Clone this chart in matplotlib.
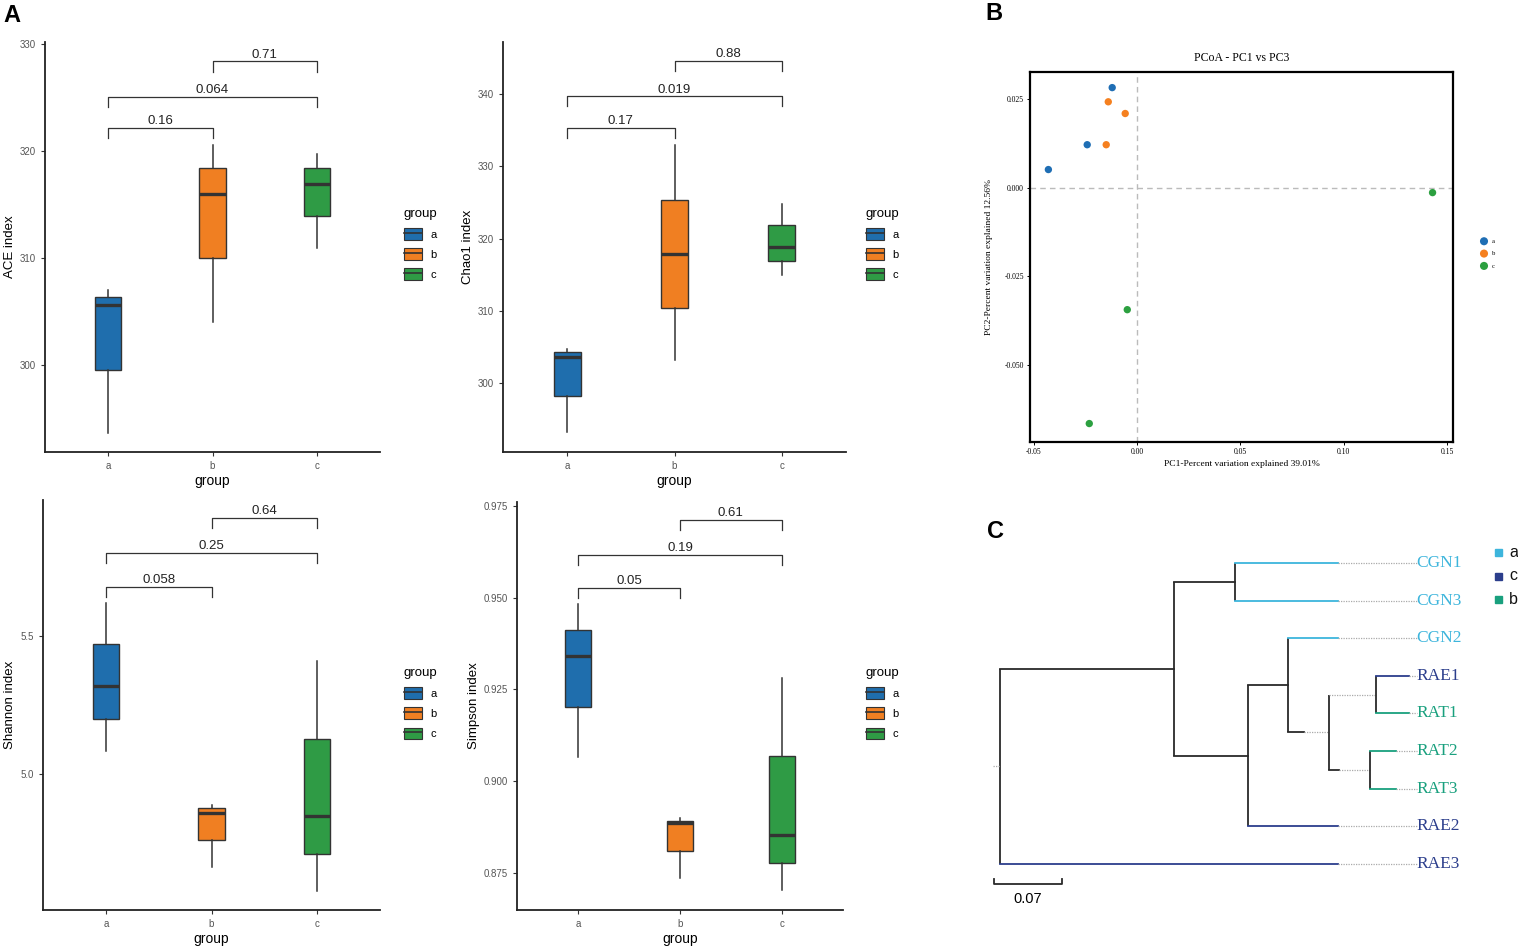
import numpy as np
import matplotlib.pyplot as plt
from matplotlib.patches import Patch
from matplotlib.lines import Line2D

# ---------------- data ----------------
groups = ["a", "b", "c"]
box_colors = ["#1F6EAD", "#F07F22", "#2F9B45"]

# five-number summaries per group: whislo, q1, med, q3, whishi
ace = [[293.7, 299.6, 305.6, 306.4, 307.0],
       [304.0, 310.0, 316.0, 318.4, 320.6],
       [311.0, 313.9, 316.9, 318.4, 319.7]]
chao1 = [[293.2, 298.3, 303.7, 304.3, 304.8],
         [303.2, 310.4, 317.9, 325.4, 333.0],
         [315.0, 316.9, 318.9, 321.9, 324.8]]
shannon = [[5.083, 5.199, 5.319, 5.471, 5.620],
           [4.663, 4.761, 4.859, 4.877, 4.888],
           [4.576, 4.710, 4.848, 5.127, 5.409]]
simpson = [[0.9067, 0.9201, 0.9340, 0.9413, 0.9484],
           [0.8736, 0.8810, 0.8886, 0.8891, 0.8899],
           [0.8703, 0.8777, 0.8853, 0.9068, 0.9280]]

# p-values and bracket heights: (a-b), (a-c), (b-c)
ace_p = ["0.16", "0.064", "0.71"]
ace_h = [322.15, 325.1, 328.4]
chao1_p = ["0.17", "0.019", "0.88"]
chao1_h = [335.3, 339.7, 344.6]
shannon_p = ["0.058", "0.25", "0.64"]
shannon_h = [5.678, 5.801, 5.928]
simpson_p = ["0.05", "0.19", "0.61"]
simpson_h = [0.9527, 0.9617, 0.9713]

# PCoA
pc1 = {"a": [-0.0121, -0.0242, -0.0430],
       "b": [-0.0140, -0.0058, -0.0150],
       "c": [0.1430, -0.0048, -0.0232]}
pc2 = {"a": [0.0282, 0.0121, 0.0051],
       "b": [0.0242, 0.0209, 0.0121],
       "c": [-0.0014, -0.0344, -0.0665]}
pcoa_colors = {"a": "#1F6EB4", "b": "#F5801F", "c": "#2CA040"}

# tree
leaves = ["CGN1", "CGN3", "CGN2", "RAE1", "RAT1", "RAT2", "RAT3", "RAE2", "RAE3"]
leaf_group = ["a", "a", "a", "c", "b", "b", "b", "c", "c"]
tree_colors = {"a": "#3DB5DC", "c": "#2C3E8C", "b": "#19A07E"}
children = {"root": ["N1", "RAE3"], "N1": ["N2", "N3"], "N2": ["CGN1", "CGN3"],
            "N3": ["N4", "RAE2"], "N4": ["CGN2", "N5"], "N5": ["N6", "N7"],
            "N6": ["RAE1", "RAT1"], "N7": ["RAT2", "RAT3"]}
depth = {"root": 0.0, "N1": 0.179, "N2": 0.242, "N3": 0.255, "N4": 0.296,
         "N5": 0.339, "N6": 0.387, "N7": 0.381,
         "CGN1": 0.348, "CGN3": 0.348, "CGN2": 0.348, "RAE2": 0.348, "RAE3": 0.348,
         "RAE1": 0.421, "RAT1": 0.421, "RAT2": 0.408, "RAT3": 0.408}
# internal branches that are only partly solid (solid up to this depth, dotted after)
solid_end = {"N5": 0.313, "N6": 0.339, "N7": 0.349}
label_depth = 0.429
scale_len = 0.07

# ---------------- figure ----------------
W, H = 1518, 947
fig = plt.figure(figsize=(W / 100, H / 100), dpi=100)
plt.rcParams['font.family'] = ['Liberation Sans', 'DejaVu Sans']


def px_axes(x0, y0, x1, y1):
    return fig.add_axes([x0 / W, 1 - y1 / H, (x1 - x0) / W, (y1 - y0) / H])


def box_panel(rect, data, ylim, yticks, ylabels, ylab, pvals, heights, leg_xy):
    ax = px_axes(*rect)
    stats = []
    for g, d in zip(groups, data):
        stats.append(dict(whislo=d[0], q1=d[1], med=d[2], q3=d[3], whishi=d[4], fliers=[]))
    bp = ax.bxp(stats, positions=[1, 2, 3], widths=0.25, showcaps=False, patch_artist=True,
                boxprops=dict(edgecolor="#333333", linewidth=1.0),
                whiskerprops=dict(color="#333333", linewidth=1.1),
                medianprops=dict(color="#333333", linewidth=2.4))
    for patch, c in zip(bp["boxes"], box_colors):
        patch.set_facecolor(c)
    ax.set_xlim(0.4, 3.6)
    ax.set_ylim(*ylim)
    ax.set_xticks([1, 2, 3])
    ax.set_xticklabels(groups)
    ax.set_yticks(yticks)
    ax.set_yticklabels(ylabels)
    ax.tick_params(labelsize=7, labelcolor="#555555", color="#333333", length=3, width=0.8)
    for s in ["top", "right"]:
        ax.spines[s].set_visible(False)
    for s in ["left", "bottom"]:
        ax.spines[s].set_linewidth(1.3)
        ax.spines[s].set_color("#222222")
    ax.set_xlabel("group", fontsize=10, labelpad=2)
    ax.set_ylabel(ylab, fontsize=9.5, labelpad=3)
    tip = 0.025 * (ylim[1] - ylim[0])
    pairs = [(1, 2), (1, 3), (2, 3)]
    for (x1, x2), p, h in zip(pairs, pvals, heights):
        ax.plot([x1, x1, x2, x2], [h - tip, h, h, h - tip], color="#333333", lw=0.9)
        ax.annotate(p, ((x1 + x2) / 2, h), xytext=(0, 0.5), textcoords="offset points",
                    ha="center", va="bottom", fontsize=9.5, color="#222222")
    handles = [(Patch(facecolor=c, edgecolor="#333333", linewidth=0.8),
                Line2D([], [], color="#333333", lw=1.2)) for c in box_colors]
    leg = ax.legend(handles, groups, title="group", loc="upper left", frameon=False,
                    bbox_to_anchor=(leg_xy[0] / W, 1 - leg_xy[1] / H),
                    bbox_transform=fig.transFigure, fontsize=8, title_fontsize=9.5,
                    handlelength=1.6, handleheight=1.25, handletextpad=0.8, labelspacing=0.75)
    leg._legend_box.align = "left"
    return ax


box_panel((45, 42, 380, 452), ace, (291.9, 330.2), [300, 310, 320, 330],
          ["300", "310", "320", "330"], "ACE index", ace_p, ace_h, (394, 198))
box_panel((503, 42, 846, 452), chao1, (290.5, 347.2), [300, 310, 320, 330, 340],
          ["300", "310", "320", "330", "340"], "Chao1 index", chao1_p, chao1_h, (856, 198))
box_panel((43, 500, 380, 910), shannon, (4.507, 5.993), [5.0, 5.5],
          ["5.0", "5.5"], "Shannon index", shannon_p, shannon_h, (394, 657))
box_panel((517, 502, 843, 910), simpson, (0.8649, 0.9761), [0.875, 0.900, 0.925, 0.950, 0.975],
          ["0.875", "0.900", "0.925", "0.950", "0.975"], "Simpson index",
          simpson_p, simpson_h, (856, 657))

# ---------------- PCoA ----------------
serif = ['Liberation Serif', 'DejaVu Serif']
axp = px_axes(1030, 72, 1453, 442)
axp.axvline(0, color="#BBBBBB", ls=(0, (4, 3)), lw=1)
axp.axhline(0, color="#BBBBBB", ls=(0, (4, 3)), lw=1)
for g in groups:
    axp.scatter(pc1[g], pc2[g], s=28, color=pcoa_colors[g], edgecolors="none", zorder=3, label=g)
axp.set_xlim(-0.0519, 0.1529)
axp.set_ylim(-0.0717, 0.0326)
axp.set_xticks([-0.05, 0, 0.05, 0.10, 0.15])
axp.set_xticklabels(["-0.05", "0.00", "0.05", "0.10", "0.15"], family=serif)
axp.set_yticks([0.025, 0, -0.025, -0.05])
axp.set_yticklabels(["0.025", "0.000", "-0.025", "-0.050"], family=serif)
axp.tick_params(labelsize=5.5, length=2.5, width=0.7, pad=2)
for s in axp.spines.values():
    s.set_linewidth(1.6)
axp.set_title("PCoA - PC1 vs PC3", family=serif, fontsize=8.5, pad=8)
axp.set_xlabel("PC1-Percent variation explained 39.01%", family=serif, fontsize=6.8, labelpad=3)
axp.set_ylabel("PC2-Percent variation explained 12.56%", family=serif, fontsize=6.8, labelpad=8)
axp.legend(loc="upper left", bbox_to_anchor=(1474 / W, 1 - 235 / H), bbox_transform=fig.transFigure,
           frameon=False, prop=dict(family=serif, size=4.8), handletextpad=0.2,
           labelspacing=1.0, markerscale=1.1, borderpad=0)

# ---------------- tree ----------------
axt = px_axes(980, 540, 1518, 940)
px_per_unit = 68 / 0.07
axt.set_xlim((980 - 1000) / px_per_unit, (1518 - 1000) / px_per_unit)
step = 37.6
axt.set_ylim((940 - 563) / step, (540 - 563) / step)
axt.axis("off")

ypos = {name: i for i, name in enumerate(leaves)}


def node_y(n):
    if n not in ypos:
        ypos[n] = np.mean([node_y(c) for c in children[n]])
    return ypos[n]


node_y("root")
dark = "#2A2A2A"
for parent, kids in children.items():
    xp = depth[parent]
    ys = [ypos[k] for k in kids]
    axt.plot([xp, xp], [min(ys), max(ys)], color=dark, lw=1.3, solid_capstyle="butt")
    for k in kids:
        xk = depth[k]
        if k in leaves:
            col = tree_colors[leaf_group[leaves.index(k)]]
            axt.plot([xp, xk], [ypos[k], ypos[k]], color=col, lw=1.3)
            axt.plot([xk, label_depth], [ypos[k], ypos[k]], color="#AAAAAA", lw=0.9, ls=(0, (1, 1)))
        else:
            se = solid_end.get(k, xk)
            if se > xp:
                axt.plot([xp, se], [ypos[k], ypos[k]], color=dark, lw=1.3)
            if se < xk:
                axt.plot([se, xk], [ypos[k], ypos[k]], color="#AAAAAA", lw=0.9, ls=(0, (1, 1)))
# root stub
axt.plot([-0.007, 0], [ypos["root"], ypos["root"]], color="#AAAAAA", lw=0.9, ls=(0, (1, 1)))
for name, g in zip(leaves, leaf_group):
    axt.text(label_depth, ypos[name], name, color=tree_colors[g], family=serif,
             fontsize=12.5, va="center", ha="left")

# scale bar
sb_y = (884 - 563) / step
sb_x0 = (994 - 1000) / px_per_unit
axt.plot([sb_x0, sb_x0, sb_x0 + scale_len, sb_x0 + scale_len],
         [sb_y - 0.12, sb_y, sb_y, sb_y - 0.12], color=dark, lw=1.3)
axt.text(sb_x0 + scale_len / 2, sb_y + 0.2, "0.07", ha="center", va="top", fontsize=10.5)

# tree legend
for i, g in enumerate(["a", "c", "b"]):
    fig.patches.append(plt.Rectangle(((1495) / W, 1 - (556 + i * 23.5) / H), 7 / W, 7 / H,
                                     transform=fig.transFigure, color=tree_colors[g]))
    fig.text(1509 / W, 1 - (552.5 + i * 23.5) / H, g, fontsize=11.5, va="center", ha="left",
             color="#111111")

# panel letters
fig.text(3 / W, 1 - 16 / H, "A", fontsize=17, fontweight="bold", va="center")
fig.text(985 / W, 1 - 14 / H, "B", fontsize=17, fontweight="bold", va="center")
fig.text(987 / W, 1 - 532 / H, "C", fontsize=17, fontweight="bold", va="center")

fig.savefig("out.png", dpi=100)
